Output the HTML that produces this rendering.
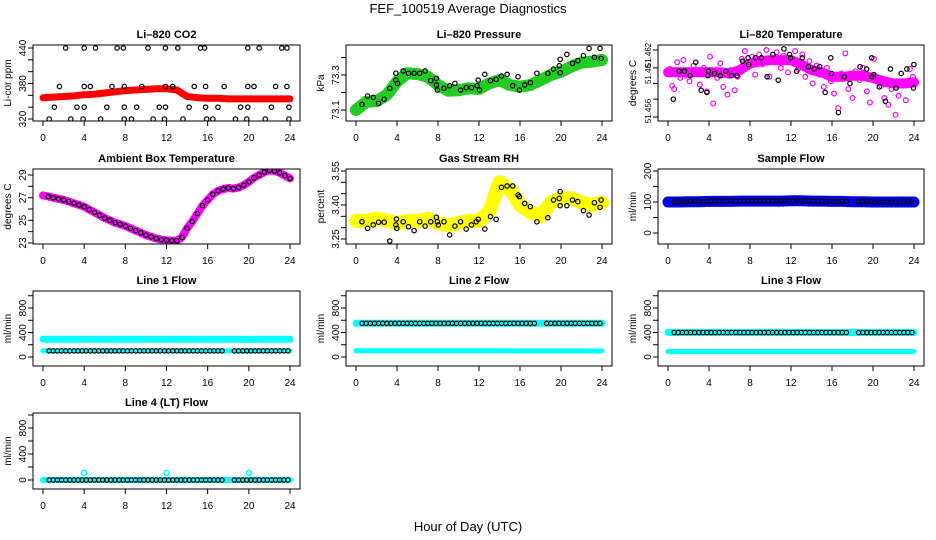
<!DOCTYPE html>
<html><head><meta charset="utf-8">
<style>
html,body{margin:0;padding:0;background:#fff;}
svg{display:block;font-family:"Liberation Sans",Arial,sans-serif;}
</style></head>
<body>
<svg id="chart" width="936" height="540" viewBox="0 0 936 540" xmlns="http://www.w3.org/2000/svg">
<text x="468" y="13" font-size="13" text-anchor="middle">FEF_100519  Average Diagnostics</text>
<text x="468" y="531" font-size="13" text-anchor="middle">Hour of Day (UTC)</text>
</svg>
<script>
// ---------- data ----------
const hourTicks = [0,4,8,12,16,20,24];
const hourly = [0,1,2,3,4,5,6,7,8,9,10,11,12,13,14,15,16,17,18,19,20,21,22,23,24];

// CO2
const co2Band = [356,357,358,359,361,362,364,366,368,369,370,371,371,369,358,356,355,355,354,354,354,354,354,354,354];
const co2PtHours = [2.2,4.0,5.1,7.2,7.8,10.2,11.9,13.1,15.3,15.7,19.9,21.0,23.2,23.7,
 1.6,4.0,4.6,6.7,7.9,9.6,11.9,12.6,14.7,15.8,17.6,19.9,20.5,22.6,23.7,
 1.1,3.3,4.0,6.2,7.9,9.1,11.3,11.9,14.2,15.8,17.0,19.2,19.9,22.2,23.9,
 0.6,2.7,3.9,5.6,7.9,8.6,10.7,11.8,13.6,15.9,16.5,18.7,19.8,21.6,23.9];
const co2PtVals = [440,440,440,440,440,440,440,440,440,440,440,440,440,440,
 375,375,375,375,375,375,375,375,375,375,375,375,375,375,375,
 340,340,340,340,340,340,340,340,340,340,340,340,340,340,340,
 320,320,320,320,320,320,320,320,320,320,320,320,320,320,320];

// Pressure
const pressBand = [73.10,73.147,73.15,73.186,73.262,73.31,73.305,73.29,73.243,73.21,73.213,73.224,73.22,73.252,73.271,73.243,73.233,73.243,73.271,73.30,73.319,73.348,73.371,73.376,73.386];
const pressPtHours = [0.58,1.13,1.68,2.2,2.75,3.3,3.89,3.89,4.05,4.6,5.12,5.67,6.22,6.74,7.29,7.84,7.84,7.94,8.58,9.14,9.65,10.2,10.75,11.27,11.82,11.92,12.05,12.57,13.12,13.67,14.19,14.74,15.29,15.81,15.94,16.46,17.01,17.65,18.72,19.27,19.83,19.92,19.92,20.57,21.12,21.64,22.19,22.74,23.26,23.81,23.91];
const pressPtVals = [73.132,73.18,73.172,73.138,73.161,73.224,73.31,73.271,73.252,73.323,73.31,73.31,73.31,73.323,73.268,73.281,73.243,73.214,73.224,73.239,73.252,73.214,73.228,73.228,73.239,73.271,73.214,73.304,73.268,73.275,73.294,73.304,73.239,73.29,73.214,73.243,73.256,73.31,73.31,73.334,73.353,73.39,73.313,73.418,73.367,73.382,73.41,73.452,73.401,73.452,73.395];

// Li-820 temperature
const tempBand = [51.4600,51.4600,51.4600,51.4600,51.4600,51.4600,51.4599,51.4602,51.4608,51.4610,51.4611,51.4611,51.4611,51.4607,51.4602,51.4600,51.4596,51.4596,51.4597,51.4597,51.4595,51.4592,51.4590,51.4590,51.4591];
const tempCloudHours = [0.2,0.4,0.6,0.9,1.2,1.5,1.8,2.1,2.5,2.8,3.1,3.5,3.8,4.1,4.4,4.8,5.1,5.4,5.8,6.1,6.5,6.8,7.2,7.5,7.8,8.2,8.5,8.9,9.2,9.6,9.9,10.3,10.6,11,11.3,11.7,12,12.4,12.7,13.1,13.4,13.8,14.1,14.5,14.8,15.2,15.5,15.9,16.2,16.6,16.9,17.3,17.6,18,18.3,18.7,19,19.4,19.7,20.1,20.4,20.8,21.1,21.5,21.8,22.2,22.5,22.9,23.2,23.6,23.9];
const tempCloudVals = [51.4603,51.4588,51.4585,51.4609,51.4595,51.4611,51.4597,51.4592,51.4606,51.4600,51.4589,51.4604,51.4583,51.4614,51.4572,51.4595,51.4608,51.4587,51.4580,51.4602,51.4584,51.4596,51.4612,51.4619,51.4605,51.4614,51.4598,51.4616,51.4607,51.4620,51.4596,51.4611,51.4618,51.4604,51.4615,51.4600,51.4612,51.4619,51.4603,51.4616,51.4596,51.4610,51.4590,51.4606,51.4598,51.4587,51.4604,51.4592,51.4581,51.4568,51.4599,51.4617,51.4585,51.4577,51.4601,51.4593,51.4604,51.4583,51.4573,51.4612,51.4595,51.4588,51.4577,51.4571,51.4585,51.4562,51.4579,51.4591,51.4575,51.4603,51.4596];
const tempPtHours = [0.52,1.08,1.6,2.16,2.71,3.24,3.79,3.89,3.95,4.54,5.1,5.65,6.18,6.73,7.29,7.81,7.88,8.53,9.12,9.67,10.23,10.75,11.31,11.86,11.96,12.55,13.1,13.69,14.25,14.8,15.33,15.88,15.95,16.63,17.19,17.75,18.73,19.38,19.87,19.9,20.07,20.62,21.21,21.7,22.25,22.75,23.3,23.95,23.99];
const tempPtVals = [51.4576,51.4601,51.4601,51.4597,51.4609,51.4584,51.4582,51.4597,51.4601,51.4599,51.4597,51.4601,51.4597,51.4597,51.4610,51.4613,51.4607,51.4613,51.4613,51.4596,51.4616,51.4593,51.4621,51.4616,51.4613,51.4601,51.4613,51.4605,51.4603,51.4605,51.4582,51.4613,51.4599,51.4564,51.4596,51.4590,51.4605,51.4603,51.4613,51.4596,51.4598,51.4587,51.4574,51.4603,51.4586,51.4599,51.4603,51.4586,51.4607];

// Ambient box temperature
const ambHours = [0,0.5,1,1.5,2,2.5,3,3.5,4,4.5,5,5.5,6,6.5,7,7.5,8,8.5,9,9.5,10,10.5,11,11.5,12,12.5,13,13.5,14,14.5,15,15.5,16,16.5,17,17.5,18,18.5,19,19.5,20,20.5,21,21.5,22,22.5,23,23.5,24];
const ambVals = [27.2,27.1,27.0,26.9,26.8,26.65,26.5,26.35,26.2,25.95,25.7,25.45,25.2,25.0,24.8,24.65,24.5,24.3,24.1,23.9,23.7,23.55,23.4,23.3,23.25,23.2,23.2,23.5,24.3,24.9,25.6,26.3,26.8,27.3,27.6,27.75,27.85,27.8,27.9,28.1,28.4,28.75,29.0,29.25,29.4,29.35,29.2,28.95,28.7];

// Gas stream RH
const rhBand = [3.33,3.33,3.34,3.33,3.32,3.33,3.33,3.34,3.32,3.31,3.32,3.33,3.33,3.37,3.50,3.47,3.40,3.37,3.35,3.41,3.43,3.43,3.41,3.40,3.41];
const rhPtHours = [0.58,1.13,1.68,2.2,2.75,3.3,3.89,3.95,3.98,4.6,5.12,5.67,6.22,6.74,7.29,7.84,7.94,8.03,8.58,9.14,9.65,10.2,10.75,11.27,11.73,11.92,12.57,13.12,13.67,14.19,14.74,15.29,15.81,15.94,16.46,17.01,17.65,18.72,19.27,19.83,19.92,19.92,20.57,21.12,21.64,22.19,22.74,23.26,23.81,23.91];
const rhPtVals = [3.326,3.297,3.312,3.324,3.324,3.241,3.312,3.338,3.297,3.326,3.304,3.287,3.326,3.307,3.326,3.346,3.326,3.312,3.326,3.268,3.307,3.326,3.294,3.312,3.326,3.337,3.294,3.349,3.337,3.478,3.484,3.484,3.444,3.437,3.407,3.393,3.326,3.344,3.422,3.429,3.459,3.397,3.397,3.422,3.415,3.375,3.356,3.41,3.39,3.422];

// Flows
const flowHours = [0.6,1.0,1.4,1.8,2.2,2.6,3.0,3.4,3.8,4.2,4.6,5.0,5.4,5.8,6.2,6.6,7.0,7.4,7.8,8.2,8.6,9.0,9.4,9.8,10.2,10.6,11.0,11.4,11.8,12.2,12.6,13.0,13.4,13.8,14.2,14.6,15.0,15.4,15.8,16.2,16.6,17.0,17.4,18.6,19.0,19.4,19.8,20.2,20.6,21.0,21.4,21.8,22.2,22.6,23.0,23.4,23.8];
const sampleBand = [100,100,101,101,102,102,102,103,103,103,103,103,104,104,103,103,102,102,101,101,100,100,100,100,100];
const sampleHourly = [100,101,102,101,103,104,103,104,104,104,103,104,105,104,103,102,101,102,101,101,100,100,100,101,100];
const line1Upper = [290,290,290,290,290,290,290,290,290,290,290,290,290,290,290,290,290,290,290,290,285,290,290,290,290];
const line1Lower = [100,100,100,100,100,100,100,100,100,100,100,100,100,100,100,100,100,100,100,100,100,100,100,100,100];
const line1Black = [100,100,100,100,100,100,100,100,100,100,100,100,100,100,100,100,100,100,100,100,100,100,100,100,100];
const line2Upper = [550,550,550,550,550,550,550,550,550,550,550,550,550,550,550,550,550,550,550,550,550,550,550,550,550];
const line2Lower = [103,103,103,103,103,103,103,103,103,103,103,103,103,103,103,100,100,100,100,100,100,100,100,100,100];
const line2Black = [550,550,550,550,550,550,550,550,550,550,550,550,550,550,550,550,550,550,550,550,550,550,550,550,550];
const line3Upper = [400,400,400,400,400,400,400,400,400,400,400,400,400,400,400,400,400,400,400,400,400,400,400,400,400];
const line3Lower = [90,90,90,90,90,90,90,90,90,90,90,90,90,90,90,90,90,90,90,90,90,90,90,90,90];
const line3Black = [400,400,400,400,400,400,400,400,400,400,400,400,400,400,400,400,400,400,400,400,400,400,400,400,400];
const line4Cyan = [0,0,0,0,0,0,0,0,0,0,0,0,0,0,0,0,0,0,0,0,0,0,0,0,0];
const line4Black = [0,0,0,0,0,0,0,0,0,0,0,0,0,0,0,0,0,0,0,0,0,0,0,0,0];
const line4OutHours = [4,12,20];
const line4OutVals = [110,110,110];

// ---------- layout ----------
const NS = "http://www.w3.org/2000/svg";
const svg = document.getElementById('chart');
const COLS = [[33,300],[346,612],[658,924]];
const ROWS = [[45,121],[169,244],[291,366],[413,489]];

function el(tag, attrs, parent) {
  const e = document.createElementNS(NS, tag);
  for (const k in attrs) e.setAttribute(k, attrs[k]);
  (parent || svg).appendChild(e);
  return e;
}

function makePanel(col, row, name, title, ylab, a1, a2, ticks, labels, labelYs, labelSize) {
  const [L, R] = COLS[col], [T, B] = ROWS[row];
  const g = el('g', {});
  
  
  const sx = h => L + 10 + h / 24 * (R - L - 20);
  const sy = v => a1[1] + (v - a1[0]) * (a2[1] - a1[1]) / (a2[0] - a1[0]);
  const plot = el('g', {}, g);
  
  
  const clip = el('clipPath', {id: 'clip-' + name}, g);
  el('rect', {x: L, y: T, width: R - L, height: B - T}, clip);
  plot.setAttribute('clip-path', 'url(#clip-' + name + ')');
  const box = el('rect', {x: L, y: T, width: R - L, height: B - T, fill: 'none', stroke: '#000', 'stroke-width': 1}, g);
  
  
  const t = el('text', {x: (L + R) / 2, y: T - 7, 'font-size': 11, 'font-weight': 'bold', 'text-anchor': 'middle'}, g);
  t.textContent = title;
  
  
  const xa = el('g', {}, g);
  
  
  hourTicks.forEach(h => {
    el('line', {x1: sx(h), x2: sx(h), y1: B, y2: B + 5, stroke: '#000'}, xa);
    const tx = el('text', {x: sx(h), y: B + 20, 'font-size': 10, 'text-anchor': 'middle'}, xa);
    tx.textContent = h;
  });
  const ya = el('g', {}, g);
  
  
  ticks.forEach(v => el('line', {x1: L - 5, x2: L, y1: sy(v), y2: sy(v), stroke: '#000'}, ya));
  labels.forEach((v, i) => {
    const yy = labelYs ? labelYs[i] : sy(v);
    const tx = el('text', {x: L - 7, y: yy, 'font-size': labelSize || 10, 'text-anchor': 'middle', transform: `rotate(-90 ${L - 7} ${yy})`}, ya);
    tx.textContent = v;
  });
  const yl = el('text', {x: L - 22, y: (T + B) / 2, 'font-size': 10, 'text-anchor': 'middle', transform: `rotate(-90 ${L - 22} ${(T + B) / 2})`}, g);
  yl.textContent = ylab;
  
  
  return {plot, sx, sy};
}

function band(p, hours, vals, color, width, name) {
  const pts = hours.map((h, i) => p.sx(h).toFixed(1) + ',' + p.sy(vals[i]).toFixed(1)).join(' ');
  const pl = el('polyline', {points: pts, fill: 'none', stroke: color, 'stroke-width': width, 'stroke-linejoin': 'round', 'stroke-linecap': 'round'}, p.plot);
  
  
}
function points(p, hours, vals, color, r, sw, name) {
  const g = el('g', {}, p.plot);
  
  
  hours.forEach((h, i) => {
    const c = el('circle', {cx: p.sx(h), cy: p.sy(vals[i]), r: r, fill: 'none', stroke: color, 'stroke-width': sw}, g);
    
    
  });
}
function hourlyLookup(arr) { return flowHours.map(h => arr[Math.floor(h)]); }

// CO2
let p = makePanel(0, 0, 'co2', 'Li\u2013820 CO2', 'Li-cor ppm', [440, 48], [320, 119], [320,340,360,380,400,420,440], [320,380,440]);
band(p, hourly, co2Band, '#ff0000', 7, 'co2-raw-band');
points(p, co2PtHours, co2PtVals, '#000', 2.2, 1.2, 'co2-average');

// Pressure
p = makePanel(1, 0, 'pressure', 'Li\u2013820 Pressure', 'kPa', [73.3, 75], [73.1, 110], [73.1,73.2,73.3,73.4], [73.1,73.3]);
band(p, hourly, pressBand, '#22cc22', 12, 'pressure-raw-band');
points(p, pressPtHours, pressPtVals, '#000', 2.2, 1.2, 'pressure-average');

// Li-820 temperature
p = makePanel(2, 0, 'li820-temp', 'Li\u2013820 Temperature', 'degrees C', [51.456, 117], [51.462, 50], [51.456,51.4576,51.459,51.4604,51.462], ['51.456','51.46','51.462'], [111, 74, 55], 8);
band(p, hourly, tempBand, '#ff00ff', 10, 'temp-raw-band');
points(p, tempCloudHours, tempCloudVals, '#ff00ff', 2.4, 1.2, 'temp-raw');
points(p, tempPtHours, tempPtVals, '#000', 2.2, 1.2, 'temp-average');

// Ambient
p = makePanel(0, 1, 'ambient-temp', 'Ambient Box Temperature', 'degrees C', [29, 175], [23, 243], [23,24,25,26,27,28,29], [23,25,27,29]);
band(p, ambHours, ambVals, '#ff00ff', 8, 'ambient-raw-band');
points(p, ambHours.slice(1), ambVals.slice(1), '#000', 2.2, 1.2, 'ambient-average');

// RH
p = makePanel(1, 1, 'gas-rh', 'Gas Stream RH', 'percent', [3.55, 171], [3.25, 239], [3.25,3.30,3.35,3.40,3.45,3.50,3.55], ['3.25','3.40','3.55']);
band(p, hourly, rhBand, '#ffff00', 14, 'rh-raw-band');
points(p, rhPtHours, rhPtVals, '#000', 2.2, 1.2, 'rh-average');

// Sample flow
p = makePanel(2, 1, 'sample-flow', 'Sample Flow', 'ml/min', [200, 171], [0, 233], [0,50,100,150,200], [0,100,200]);
band(p, hourly, sampleBand, '#0000ee', 11, 'sample-raw-band');
points(p, flowHours, hourlyLookup(sampleHourly), '#000', 2.2, 1.2, 'sample-average');

// Line 1
const flowTicks = [0,200,400,600,800,1000], flowLabels = [0,400,800];
p = makePanel(0, 2, 'line1-flow', 'Line 1 Flow', 'ml/min', [0, 357], [800, 308], flowTicks, flowLabels);
band(p, hourly, line1Upper, '#00ffff', 7, 'line1-upper-band');
band(p, hourly, line1Lower, '#00ffff', 5, 'line1-lower-band');
points(p, flowHours, hourlyLookup(line1Black), '#000', 2.2, 1.2, 'line1-average');

// Line 2
p = makePanel(1, 2, 'line2-flow', 'Line 2 Flow', 'ml/min', [0, 357], [800, 308], flowTicks, flowLabels);
band(p, hourly, line2Upper, '#00ffff', 7, 'line2-upper-band');
band(p, hourly, line2Lower, '#00ffff', 5, 'line2-lower-band');
points(p, flowHours, hourlyLookup(line2Black), '#000', 2.2, 1.2, 'line2-average');

// Line 3
p = makePanel(2, 2, 'line3-flow', 'Line 3 Flow', 'ml/min', [0, 357], [800, 308], flowTicks, flowLabels);
band(p, hourly, line3Upper, '#00ffff', 7, 'line3-upper-band');
band(p, hourly, line3Lower, '#00ffff', 5, 'line3-lower-band');
points(p, flowHours, hourlyLookup(line3Black), '#000', 2.2, 1.2, 'line3-average');

// Line 4
p = makePanel(0, 3, 'line4-flow', 'Line 4 (LT) Flow', 'ml/min', [0, 480], [800, 428], flowTicks, flowLabels);
band(p, hourly, line4Cyan, '#00ffff', 6, 'line4-band');
points(p, line4OutHours, line4OutVals, '#00ffff', 2.5, 1.5, 'line4-outliers');
points(p, flowHours, hourlyLookup(line4Black), '#000', 2.2, 1.2, 'line4-average');
</script>
</body></html>
